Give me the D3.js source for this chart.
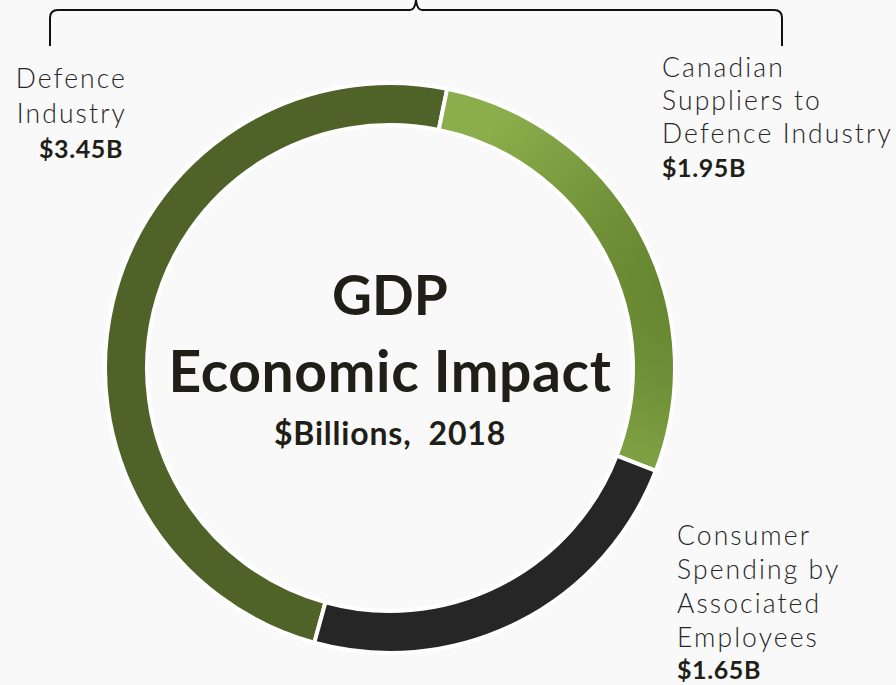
<!DOCTYPE html>
<meta charset="utf-8">
<style>
  body { margin: 0; background: #f9f9f9; }
  svg { display: block; }
  .lbl { font-family: "Lato", "DejaVu Sans", sans-serif; font-weight: 300; font-size: 26.5px; fill: #262626; letter-spacing: 2.1px; }
  .val { font-family: "Lato", sans-serif; font-weight: 700; font-size: 25px; fill: #1f1f17; letter-spacing: 0.6px; }
  .title { font-family: "Lato", sans-serif; font-weight: 700; fill: #1f1f17; text-anchor: middle; }
</style>
<svg width="896" height="685"></svg>
<script src="https://cdn.jsdelivr.net/npm/d3@7/dist/d3.min.js"></script>
<script>

  // data
  var categories = ["Defence Industry", "Canadian Suppliers to Defence Industry", "Consumer Spending by Associated Employees"];
  var values = [3.45, 1.95, 1.65];
  var valueLabels = ["$3.45B", "$1.95B", "$1.65B"];
  var labelLines = [
    ["Defence", "Industry"],
    ["Canadian", "Suppliers to", "Defence Industry"],
    ["Consumer", "Spending by", "Associated", "Employees"]
  ];
  var titleLines = ["GDP", "Economic Impact", "$Billions,  2018"];

  var svg = d3.select("svg"),
      width = +svg.attr("width"),
      height = +svg.attr("height");

  var cx = 390, cy = 368, outerR = 285, innerR = 243;

  svg.append("rect").attr("width", width).attr("height", height).attr("fill", "#f9f9f9");

  // gradient coords are relative to the ring centre (the arcs sit in a translated group)
  var defs = svg.append("defs");
  var rg = defs.append("radialGradient")
        .attr("id", "gSup")
        .attr("gradientUnits", "userSpaceOnUse")
        .attr("cx", 300).attr("cy", -85).attr("r", 250);
  rg.append("stop").attr("offset", "0%").attr("stop-color", "#64832f");
  rg.append("stop").attr("offset", "35%").attr("stop-color", "#6d8d36");
  rg.append("stop").attr("offset", "100%").attr("stop-color", "#8cad4b");

  var fills = ["#4f6228", "url(#gSup)", "#262626"];

  var deg = Math.PI / 180;
  var pie = d3.pie().sort(null)
        .startAngle(-164.6 * deg)
        .endAngle(195.4 * deg);

  var arc = d3.arc().innerRadius(innerR).outerRadius(outerR);

  var g = svg.append("g").attr("transform", "translate(" + cx + "," + cy + ")");

  g.selectAll("path")
    .data(pie(values))
    .enter().append("path")
    .attr("d", arc)
    .attr("fill", function (d, i) { return fills[i]; })
    .attr("stroke", "#ffffff")
    .attr("stroke-width", 4);

  // brace at the top
  var brace = d3.path();
  brace.moveTo(50, 46);
  brace.lineTo(50, 18);
  brace.quadraticCurveTo(50, 10, 58, 10);
  brace.lineTo(410, 10);
  brace.quadraticCurveTo(415, 10, 416, 0);
  brace.moveTo(416, 0);
  brace.quadraticCurveTo(417, 10, 422, 10);
  brace.lineTo(774, 10);
  brace.quadraticCurveTo(782, 10, 782, 18);
  brace.lineTo(782, 46);
  svg.append("path")
    .attr("d", brace.toString())
    .attr("fill", "none")
    .attr("stroke", "#111")
    .attr("stroke-width", 2);

  // category labels
  var labelPos = [
    { x: 127, y: 88, anchor: "end", step: 34.5 },
    { x: 662, y: 77, anchor: "start", step: 33 },
    { x: 677, y: 545, anchor: "start", step: 34 }
  ];

  labelPos.forEach(function (p, i) {
    var t = svg.append("g");
    labelLines[i].forEach(function (line, j) {
      t.append("text")
        .attr("class", "lbl")
        .attr("x", p.x)
        .attr("y", p.y + j * p.step)
        .attr("text-anchor", p.anchor)
        .text(line);
    });
    t.append("text")
      .attr("class", "val")
      .attr("x", p.anchor === "end" ? p.x - 4 : p.x)
      .attr("y", Math.min(p.y + labelLines[i].length * p.step + 1, 679))
      .attr("text-anchor", p.anchor)
      .text(valueLabels[i]);
  });

  // centre title
  svg.append("text").attr("class", "title")
    .attr("x", cx).attr("y", 315).style("font-size", "55px").text(titleLines[0]);
  svg.append("text").attr("class", "title")
    .attr("x", cx).attr("y", 392).style("font-size", "57px")
    .style("letter-spacing", "0.6px").text(titleLines[1]);
  svg.append("text").attr("class", "title")
    .attr("x", cx).attr("y", 445).style("font-size", "32px")
    .style("letter-spacing", "0.8px")
    .style("white-space", "pre").text(titleLines[2]);

</script>
